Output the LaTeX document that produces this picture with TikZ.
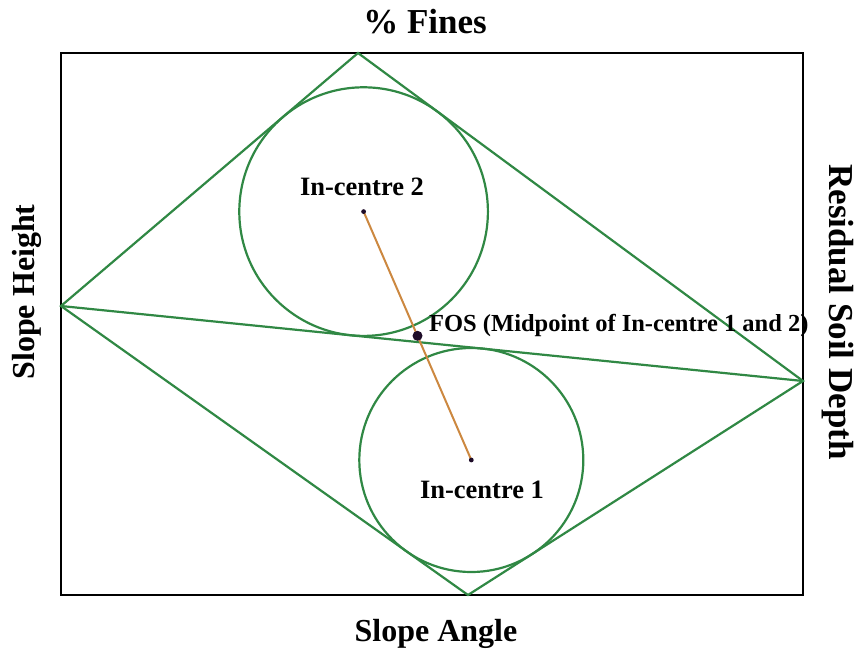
\documentclass[tikz,border=0pt]{standalone}
\usepackage{fontspec}
\setmainfont{Liberation Serif}
\definecolor{gline}{RGB}{48,136,68}
\definecolor{oline}{RGB}{204,136,64}
\definecolor{dotc}{RGB}{30,12,40}
\begin{document}
\begin{tikzpicture}[x=1pt,y=-1pt,
  title/.style={font=\bfseries\fontsize{32}{36}\selectfont,inner sep=0pt},
  lbl/.style={font=\bfseries\fontsize{26.5}{30}\selectfont,inner sep=0pt},
  fos/.style={font=\bfseries\fontsize{24.5}{28}\selectfont,inner sep=0pt,anchor=west},
  gl/.style={draw=gline,line width=2.2pt,line join=miter},
  frame/.style={draw=black,line width=2.6pt}]
\useasboundingbox (0,0) rectangle (858,655);
% diamond vertices
\coordinate (T) at (358,53);
\coordinate (L) at (61,306);
\coordinate (R) at (803,381);
\coordinate (B) at (468,595);
\coordinate (I2) at (363.6,211.6);
\coordinate (I1) at (471.3,460.0);
\coordinate (M) at (417.5,335.8);
% frame
\draw[frame] (61,53) rectangle (803,595);
% green shapes
\draw[gl] (T) -- (R) -- (B) -- (L) -- cycle;
\draw[gl] (L) -- (R);
\draw[gl] (I2) circle[radius=124.3];
\draw[gl] (I1) circle[radius=112.0];
% orange connector
\draw[draw=oline,line width=2pt] (I2) -- (I1);
\fill[dotc] (I2) circle[radius=2.4];
\fill[dotc] (I1) circle[radius=2.4];
\fill[dotc] (M) circle[radius=5];
% labels
\node[lbl] (l2) at (362,187) {In-centre 2};
\node[lbl] (l1) at (482,490) {In-centre 1};
\node[fos] (lf) at (429,325) {FOS (Midpoint of In-centre 1 and 2)};
\node[title,font=\bfseries\fontsize{35}{40}\selectfont] (tt) at (425,22) {\% Fines};
\node[title] (tb) at (436,634) {Slope Angle};
\node[title,rotate=90] (tl) at (27,292) {Slope Height};
\node[title,rotate=-90,font=\bfseries\fontsize{35}{40}\selectfont] (tr) at (838,312) {Residual Soil Depth};
\end{tikzpicture}
\end{document}
